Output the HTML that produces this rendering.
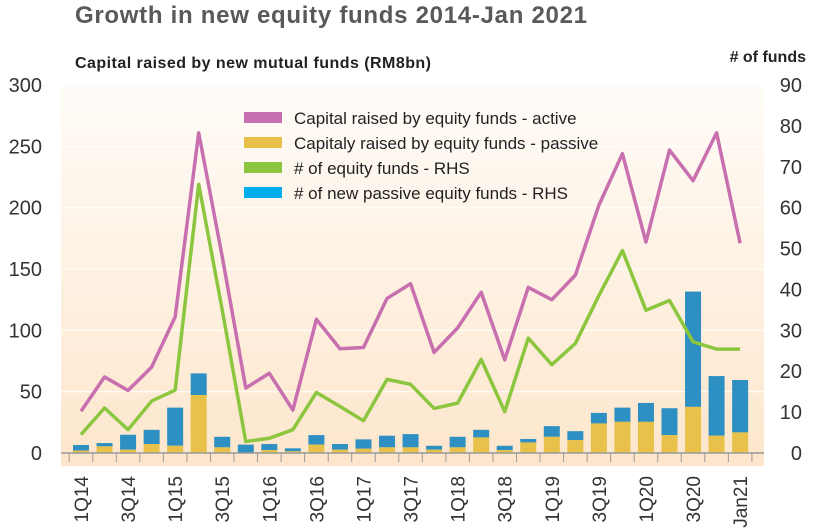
<!DOCTYPE html>
<html><head><meta charset="utf-8"><style>
body{margin:0;background:#fff;width:832px;height:529px;overflow:hidden;font-family:"Liberation Sans",sans-serif}
svg{display:block}
</style></head><body>
<svg id="c" width="832" height="529">
<defs><linearGradient id="bg" x1="0" y1="0" x2="0" y2="1"><stop offset="0" stop-color="#fffcf8"/><stop offset="1" stop-color="#fde6cc"/></linearGradient></defs>
<rect x="61" y="85" width="703" height="381" fill="url(#bg)"/>
<text x="75" y="23" font-size="24" font-weight="bold" fill="#595959" textLength="512">Growth in new equity funds 2014-Jan 2021</text>
<text x="75" y="68" font-size="16" font-weight="bold" fill="#222" textLength="356">Capital raised by new mutual funds (RM8bn)</text>
<text x="806" y="62" font-size="16" font-weight="bold" fill="#222" text-anchor="end"># of funds</text>
<g id="grid"></g><g id="bars"></g><g id="lines"></g><g id="axes"></g>
<g id="legend"></g>
</svg>
<script>
const categories=["1Q14","2Q14","3Q14","4Q14","1Q15","2Q15","3Q15","4Q15","1Q16","2Q16","3Q16","4Q16","1Q17","2Q17","3Q17","4Q17","1Q18","2Q18","3Q18","4Q18","1Q19","2Q19","3Q19","4Q19","1Q20","2Q20","3Q20","4Q20","Jan21"];
const activeCapital=[34,62,51,70,111,261,160,53,65,35,109,85,86,126,138,82,102,131,76,135,125,145,202,244,172,247,222,261,171];
const passiveCapital=[2,5.4,2.7,7.3,5.9,47.3,4.6,0,2.4,1.4,6.8,2.7,3.5,4.6,4.6,2.7,4.6,12.7,2.4,8.6,13.2,10.5,24.1,25.4,25.4,14.6,37.6,14.1,16.8];
const passiveBarTotal=[6.5,8.1,14.9,18.9,37,64.9,13.2,6.8,7.3,3.8,14.6,7.3,11.1,14.1,15.4,5.9,13.2,18.9,5.9,11.4,21.9,17.8,32.7,37,40.8,36.5,131.6,62.7,59.5];
const fundCount=[4.5,11,5.7,12.7,15.4,65.7,35,2.8,3.6,5.7,14.8,11.4,7.9,18,16.8,10.9,12.2,22.9,10.1,28.1,21.6,26.8,38.5,49.5,34.9,37.3,27.2,25.4,25.4];
const leftTicks=[0,50,100,150,200,250,300];
const rightTicks=[0,10,20,30,40,50,60,70,80,90];
const NS="http://www.w3.org/2000/svg";
const base=453,plotTop=85;
const yL=v=>base-v*(base-plotTop)/300;
const yR=v=>base-v*(base-plotTop)/90;
const x0=81,step=23.54;
const xC=i=>x0+i*step;
function mk(tag,attrs,parent,txt){const e=document.createElementNS(NS,tag);for(const k in attrs)e.setAttribute(k,attrs[k]);if(txt!==undefined)e.textContent=txt;document.getElementById(parent).appendChild(e);return e;}
leftTicks.forEach(t=>{
  if(t>0){const g=mk('line',{x1:61,x2:764,y1:yL(t),y2:yL(t),stroke:'#ffffff','stroke-width':1.2},'grid');
  
  }
  const l=mk('text',{x:42,y:yL(t)+7,'font-size':20,fill:'#333','text-anchor':'end'},'axes',String(t));
  
  
});
rightTicks.forEach(t=>{
  const l=mk('text',{x:802,y:yR(t)+7,'font-size':20,fill:'#333','text-anchor':'end'},'axes',String(t));
  
  
});
const bw=16;
categories.forEach((c,i)=>{
  const x=xC(i);
  const b=mk('rect',{x:x-bw/2,y:yL(passiveBarTotal[i]),width:bw,height:yL(passiveCapital[i])-yL(passiveBarTotal[i]),fill:'#2e8fc2'},'bars');
  
  
  const yb=mk('rect',{x:x-bw/2,y:yL(passiveCapital[i]),width:bw,height:base-yL(passiveCapital[i]),fill:'#e8c14a'},'bars');
  
  
  if(i%2===0){
    const t=mk('text',{transform:`translate(${x+7},476) rotate(-90)`,'font-size':19,fill:'#333','text-anchor':'end'},'axes',c);
    
    
  }
});
for(let i=0;i<=categories.length;i++){
  const x=xC(i)-step/2;
  const tk=mk('line',{x1:x,x2:x,y1:base,y2:base+9,stroke:'#999','stroke-width':1},'axes');
  
  
}
const ax=mk('line',{x1:61,x2:764,y1:base,y2:base,stroke:'#999','stroke-width':1.5},'axes');


const p1=mk('polyline',{points:activeCapital.map((v,i)=>xC(i)+','+yL(v)).join(' '),fill:'none',stroke:'#c86fb0','stroke-width':3.5,'stroke-linejoin':'round'},'lines');


const p2=mk('polyline',{points:fundCount.map((v,i)=>xC(i)+','+yR(v)).join(' '),fill:'none',stroke:'#8cc63f','stroke-width':3.5,'stroke-linejoin':'round'},'lines');


const legendItems=[["Capital raised by equity funds - active","#c86fb0"],["Capitaly raised by equity funds - passive","#e8c14a"],["# of equity funds - RHS","#8cc63f"],["# of  new passive equity funds - RHS","#00aeef"]];
legendItems.forEach((it,i)=>{
  const y=118+i*25;
  const s=mk('rect',{x:244,y:y-6,width:38,height:11,fill:it[1]},'legend');
  
  
  const t=mk('text',{x:294,y:y+6,'font-size':17,fill:'#222','xml:space':'preserve'},'legend',it[0]);
  
  
});
</script>
</body></html>
